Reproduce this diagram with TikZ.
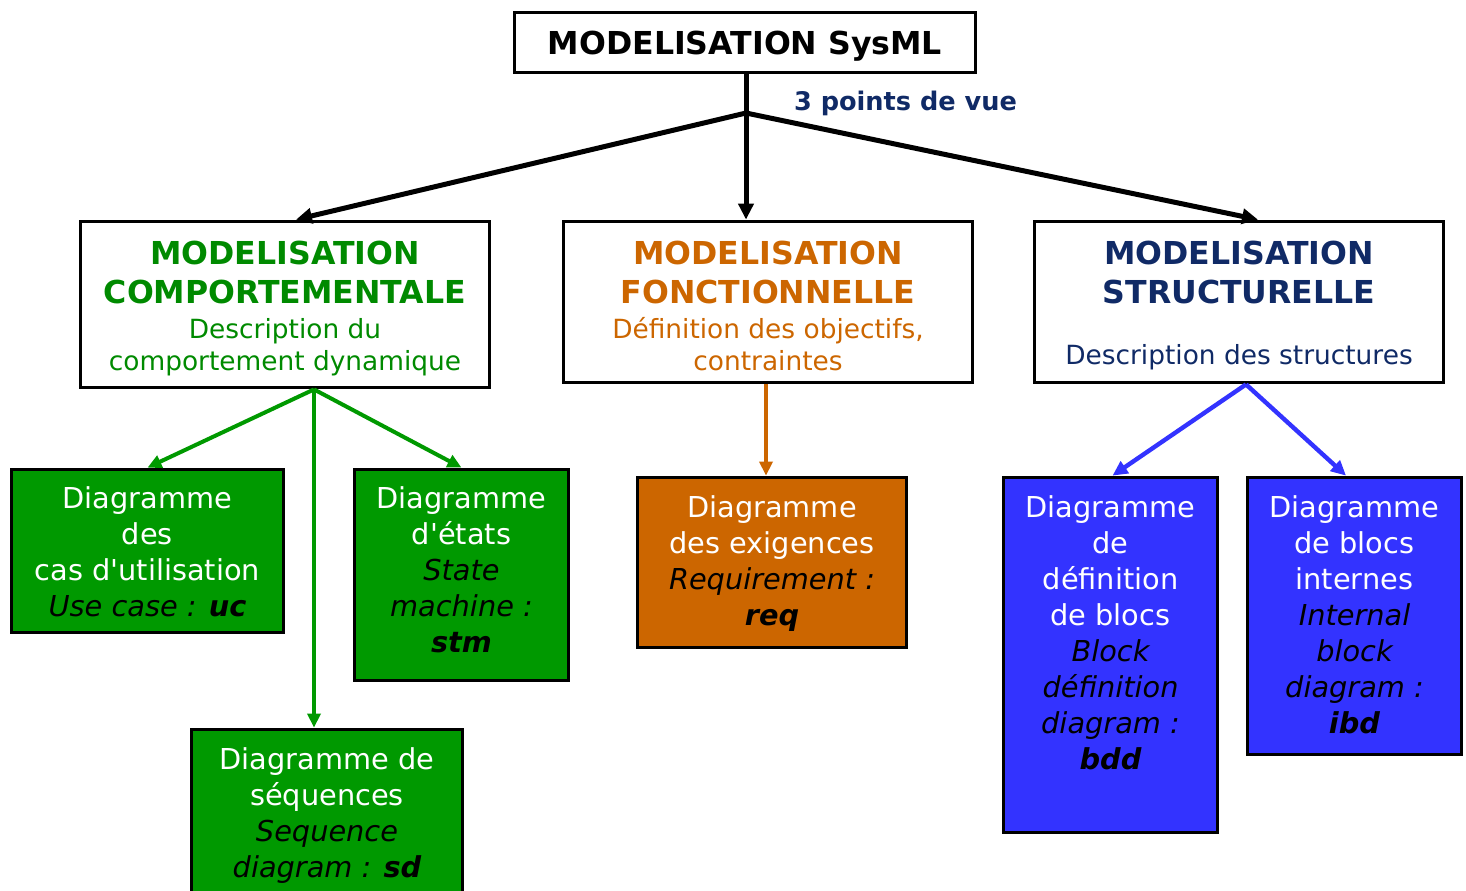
\documentclass[tikz,border=0pt]{standalone}
\usepackage{fontspec}
\setmainfont{DejaVu Sans}[Ligatures=TeXOff]
\usetikzlibrary{arrows.meta}
\definecolor{vert}{HTML}{009900}
\definecolor{verttxt}{HTML}{008A00}
\definecolor{orangeF}{HTML}{CC6600}
\definecolor{bleu}{HTML}{3333FF}
\definecolor{marine}{HTML}{102A66}
\newcommand\engl[1]{{\color{black}\itshape #1}}
\newcommand\sigle[1]{{\color{black}\bfseries\itshape #1}}
\begin{document}
\begin{tikzpicture}[x=0.5pt,y=-0.5pt,
  box/.style={draw=black, line width=1.9pt, inner sep=0pt},
  ttl/.style={font=\fontsize{15.8}{19.5}\selectfont\bfseries, align=center, inner sep=0pt, anchor=north},
  dsc/.style={font=\fontsize{13.2}{16}\selectfont, align=center, inner sep=0pt, anchor=north},
  diag/.style={font=\fontsize{14.4}{18}\selectfont, align=center, inner sep=0pt, anchor=north, text=white},
  noir/.style={-{Triangle[length=8pt,width=7.5pt]}, draw=black, line width=2.5pt},
  vertl/.style={-{Triangle[length=7pt,width=6.5pt]}, draw=vert, line width=2pt},
  orl/.style={-{Triangle[length=7pt,width=6.5pt]}, draw=orangeF, line width=1.8pt},
  bleul/.style={-{Triangle[length=7.5pt,width=7pt]}, draw=bleu, line width=2.2pt}
]
\useasboundingbox (0,0) rectangle (1466,890);
\clip (0,0) rectangle (1466,890);

% top title
\node[box, minimum width=230.5pt, minimum height=30pt, text depth=0pt,
      font=\fontsize{15.8}{19}\selectfont\bfseries] (top) at (745,42.5) {MODELISATION SysML};
\node[font=\fontsize{12.8}{15}\selectfont\bfseries, text=marine, anchor=base, inner sep=0pt]
  (pdv) at (905.5,110.5) {3 points de vue};

% three points of view
\node[box, minimum width=204.5pt, minimum height=83pt] (comp) at (285,304.5) {};
\node[box, minimum width=204.5pt, minimum height=80.5pt] (fonc) at (768,302) {};
\node[box, minimum width=204.5pt, minimum height=80.5pt] (struc) at (1239,302) {};

\node[ttl, text=verttxt] (compT) at (285,240.5) {MODELISATION\\COMPORTEMENTALE};
\node[dsc, text=verttxt] (compD) at (285,317.6) {Description du\\comportement dynamique};
\node[ttl, text=orangeF] (foncT) at (768,240.5) {MODELISATION\\FONCTIONNELLE};
\node[dsc, text=orangeF] (foncD) at (768,316.5) {Définition des objectifs,\\contraintes};
\node[ttl, text=marine] (strucT) at (1239,240.5) {MODELISATION\\STRUCTURELLE};
\node[dsc, text=marine] (strucD) at (1239,343.6) {Description des structures};

% diagram boxes
\node[box, fill=vert, minimum width=136pt, minimum height=81.5pt] (uc) at (147.5,551) {};
\node[box, fill=vert, minimum width=107pt, minimum height=105.5pt] (stm) at (461.5,575) {};
\node[box, fill=vert, minimum width=135.5pt, minimum height=95.25pt] (sd) at (327,824.75) {};
\node[box, fill=orangeF, minimum width=134.5pt, minimum height=85pt] (req) at (772,562.5) {};
\node[box, fill=bleu, minimum width=107pt, minimum height=177.5pt] (bdd) at (1110.5,655) {};
\node[box, fill=bleu, minimum width=107pt, minimum height=138.5pt] (ibd) at (1354.5,616) {};

\node[diag] (ucT) at (147.5,486.6) {Diagramme\\des\\cas d'utilisation\\\engl{Use case :} \sigle{uc}};
\node[diag] (stmT) at (461.5,486.6) {Diagramme\\d'états\\\engl{State}\\\engl{machine :}\\\sigle{stm}};
\node[diag] (sdT) at (327,747.6) {Diagramme de\\séquences\\\engl{Sequence}\\\engl{diagram :} \sigle{sd}};
\node[diag] (reqT) at (772,495.6) {Diagramme\\des exigences\\\engl{Requirement :}\\\sigle{req}};
\node[diag] (bddT) at (1110.5,495.6) {Diagramme\\de\\définition\\de blocs\\\engl{Block}\\\engl{définition}\\\engl{diagram :}\\\sigle{bdd}};
\node[diag] (ibdT) at (1354.5,495.6) {Diagramme\\de blocs\\internes\\\engl{Internal}\\\engl{block}\\\engl{diagram :}\\\sigle{ibd}};

% connectors
\coordinate (J) at (746,113);
\draw[black, line width=2.5pt] ([xshift=0.5pt]top.south) -- (J);
\draw[noir] (J) -- ([xshift=5.5pt]comp.north);
\draw[noir] (J) -- (J |- fonc.north);
\draw[noir] (J) -- ([xshift=9.5pt]struc.north);

\coordinate (G) at ([xshift=14.5pt]comp.south);
\draw[vertl] (G) -- (uc.north);
\draw[vertl] (G) -- (stm.north);
\draw[vertl] (G) -- (G |- sd.north);

\coordinate (O) at ([xshift=-1pt]fonc.south);
\draw[orl] (O) -- (O |- req.north);

\coordinate (B) at ([xshift=3.5pt]struc.south);
\draw[bleul] (B) -- ([xshift=1pt]bdd.north);
\draw[bleul] (B) -- ([xshift=-4.25pt]ibd.north);
\end{tikzpicture}
\end{document}
